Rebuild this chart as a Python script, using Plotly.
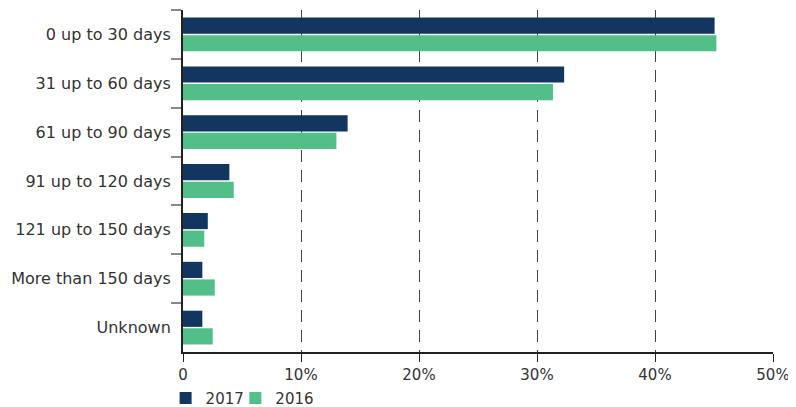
import plotly.graph_objects as go

categories = ["0 up to 30 days", "31 up to 60 days", "61 up to 90 days",
              "91 up to 120 days", "121 up to 150 days", "More than 150 days", "Unknown"]
values_2017 = [45.05, 32.3, 13.95, 3.93, 2.1, 1.64, 1.64]
values_2016 = [45.2, 31.35, 13.0, 4.3, 1.8, 2.69, 2.52]
tick_vals = [0, 10, 20, 30, 40, 50]
tick_text = ["0", "10%", "20%", "30%", "40%", "50%"]

NAVY = "#12365f"
GREEN = "#52be88"
TEXT = "#333333"

fig = go.Figure()
fig.add_trace(go.Bar(y=categories, x=values_2017, name="2017", orientation="h",
                     marker=dict(color=NAVY, line=dict(width=0)), legend="legend"))
fig.add_trace(go.Bar(y=categories, x=values_2016, name="2016", orientation="h",
                     marker=dict(color=GREEN, line=dict(width=0)), legend="legend2"))

leg_common = dict(orientation="h", xanchor="left", xref="container", yref="container",
                  y=0.022, yanchor="middle",
                  font=dict(size=15, color=TEXT), bgcolor="rgba(0,0,0,0)")

fig.update_layout(
    width=788, height=399,
    margin=dict(l=175, r=23, t=2, b=55, autoexpand=False),
    paper_bgcolor="white", plot_bgcolor="white",
    barmode="group", bargap=0.28, bargroupgap=0.08,
    font=dict(family="DejaVu Sans", size=15, color=TEXT),
    showlegend=True,
    legend=dict(x=0.2, **leg_common),
    legend2=dict(x=0.2885, **leg_common),
    xaxis=dict(range=[0, 50], tickvals=tick_vals, ticktext=tick_text,
               showgrid=True, gridcolor="#444444", gridwidth=1, griddash="12px,8px",
               showline=True, linecolor="#222222", linewidth=2,
               ticks="outside", ticklen=8, tickcolor="#222222", tickwidth=1,
               ticklabelstandoff=0,
               zeroline=False, fixedrange=True),
    yaxis=dict(autorange="reversed", showline=True, linecolor="#222222", linewidth=2,
               ticks="outside", ticklen=10, tickcolor="#888888", tickwidth=2,
               tickson="boundaries", showgrid=False, fixedrange=True,
               ticklabelstandoff=7, tickfont=dict(size=16)),
)

fig.write_html("out.html")
